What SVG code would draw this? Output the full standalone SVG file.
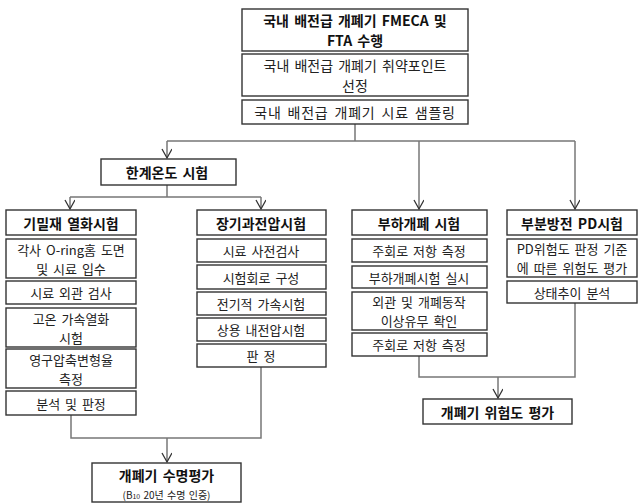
<svg xmlns="http://www.w3.org/2000/svg" width="640" height="504" viewBox="0 0 640 504">
<defs>
<marker id="arr" markerWidth="12" markerHeight="12" refX="10" refY="5" orient="auto" markerUnits="userSpaceOnUse">
<path d="M1,0 L10,5 L1,10" fill="none" stroke="#333" stroke-width="1.3"/>
</marker>
<style>
rect{fill:#fff;stroke:#333;stroke-width:1.4}
text{font-family:"Malgun Gothic","Noto Sans CJK KR","Noto Sans",sans-serif;font-size:13px;fill:#222;text-anchor:middle;dominant-baseline:central;word-spacing:2px}
.b{font-weight:bold;font-size:14px;fill:#111}
.t{font-size:14px}
.s{font-size:10px;word-spacing:1px}
#connectors path{fill:none;stroke:#777;stroke-width:1.5}
#connectors .a{marker-end:url(#arr)}
</style>
</defs>
<rect x="0" y="0" width="640" height="504" style="fill:#fff;stroke:none"/>
<g id="connectors">
<path d="M355,124 V141 M167,141 H575"/>
<path class="a" d="M167,141 V158"/>
<path class="a" d="M419,141 V209"/>
<path class="a" d="M575,141 V209"/>
<path d="M167,185 V197 M70,197 H261"/>
<path class="a" d="M70,197 V209"/>
<path class="a" d="M261,197 V209"/>
<path d="M71,415 V438 H261 V367"/>
<path class="a" d="M167,438 V462"/>
<path d="M419,356 V377 H575 V303"/>
<path class="a" d="M498,377 V398"/>
</g>
<g id="n1"><rect x="242" y="9" width="226" height="42"/><text class="b" x="355" y="19.7">국내 배전급 개폐기 FMECA 및</text><text class="b" x="355" y="40.3">FTA 수행</text></g>
<g id="n2"><rect x="242" y="54" width="226" height="42"/><text class="t" x="355" y="64.7">국내 배전급 개폐기 취약포인트</text><text class="t" x="355" y="85.3">선정</text></g>
<g id="n3"><rect x="242" y="100" width="226" height="24"/><text class="t" x="355" y="112" letter-spacing="0.8">국내 배전급 개폐기 시료 샘플링</text></g>
<g id="n4"><rect x="101" y="159" width="135" height="26"/><text class="b" x="167" y="172">한계온도 시험</text></g>
<g id="a0"><rect x="6" y="210" width="130" height="25"/><text class="b" x="71" y="222.5">기밀재 열화시험</text></g>
<g id="a1"><rect x="6" y="239" width="130" height="39"/><text x="71" y="249">각사 O-ring홈 도면</text><text x="71" y="268">및 시료 입수</text></g>
<g id="a2"><rect x="6" y="281" width="130" height="23"/><text x="71" y="292.5">시료 외관 검사</text></g>
<g id="a3"><rect x="6" y="308" width="130" height="39"/><text x="71" y="318">고온 가속열화</text><text x="71" y="337">시험</text></g>
<g id="a4"><rect x="6" y="349" width="130" height="39"/><text x="71" y="359">영구압축변형율</text><text x="71" y="378">측정</text></g>
<g id="a5"><rect x="6" y="391" width="130" height="24"/><text x="71" y="403">분석 및 판정</text></g>
<g id="b0"><rect x="197" y="210" width="129" height="25"/><text class="b" x="261" y="222.5">장기과전압시험</text></g>
<g id="b1"><rect x="197" y="239" width="129" height="23"/><text x="261" y="250.5">시료 사전검사</text></g>
<g id="b2"><rect x="197" y="265" width="129" height="24"/><text x="261" y="277">시험회로 구성</text></g>
<g id="b3"><rect x="197" y="292" width="129" height="23"/><text x="261" y="303.5">전기적 가속시험</text></g>
<g id="b4"><rect x="197" y="318" width="129" height="23"/><text x="261" y="329.5">상용 내전압시험</text></g>
<g id="b5"><rect x="197" y="344" width="129" height="23"/><text x="261" y="355.5">판 정</text></g>
<g id="c0"><rect x="352" y="210" width="135" height="25"/><text class="b" x="419" y="222.5">부하개폐 시험</text></g>
<g id="c1"><rect x="352" y="239" width="135" height="23"/><text x="419" y="250.5">주회로 저항 측정</text></g>
<g id="c2"><rect x="352" y="266" width="135" height="22"/><text x="419" y="277">부하개폐시험 실시</text></g>
<g id="c3"><rect x="352" y="292" width="135" height="38"/><text x="419" y="301.5">외관 및 개폐동작</text><text x="419" y="320.5">이상유무 확인</text></g>
<g id="c4"><rect x="352" y="333" width="135" height="23"/><text x="419" y="344.5">주회로 저항 측정</text></g>
<g id="d0"><rect x="507" y="210" width="130" height="25"/><text class="b" x="572" y="222.5">부분방전 PD시험</text></g>
<g id="d1"><rect x="507" y="239" width="130" height="38"/><text x="572" y="248.5">PD위험도 판정 기준</text><text x="572" y="267.5">에 따른 위험도 평가</text></g>
<g id="d2"><rect x="507" y="281" width="130" height="22"/><text x="572" y="292">상태추이 분석</text></g>
<g id="e1"><rect x="423" y="399" width="149" height="25"/><text class="b" x="497.5" y="411.5">개폐기 위험도 평가</text></g>
<g id="e2"><rect x="92" y="463" width="149" height="39"/><text class="b" x="166.5" y="475">개폐기 수명평가</text><text class="s" x="166.5" y="494">(B<tspan font-size="7" dy="2">10</tspan><tspan dy="-2"> 20년 수명 인증)</tspan></text></g>
</svg>
